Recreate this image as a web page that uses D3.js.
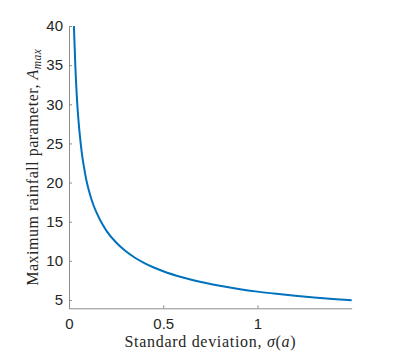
<!DOCTYPE html>
<html>
<head>
<meta charset="utf-8">
<script src="https://cdn.jsdelivr.net/npm/d3@7"></script>
<style>
  body { margin: 0; background: #fff; }
  svg { display: block; }
</style>
</head>
<body>
<svg id="chart" width="407" height="354"></svg>
<script>
// values
var sigma = [0.026, 0.0335, 0.044, 0.05, 0.062, 0.07, 0.08, 0.093, 0.11, 0.13,
             0.15, 0.173, 0.2, 0.25, 0.3, 0.35, 0.4, 0.45, 0.5, 0.6,
             0.7, 0.8, 0.9, 1.0, 1.1, 1.2, 1.3, 1.4, 1.5];
var aMax = [40, 35, 30, 28.0, 25, 23.4, 21.9, 20.2, 18.6, 17.1,
            15.96, 14.86, 13.8, 12.34, 11.25, 10.4, 9.72, 9.15, 8.67, 7.9,
            7.29, 6.81, 6.41, 6.07, 5.79, 5.54, 5.32, 5.14, 4.96];
var xTicks = [0, 0.5, 1];
var yTicks = [5, 10, 15, 20, 25, 30, 35, 40];

var svg = d3.select("#chart");
// note: "top" is taken by window.top, so the box edges get plot* names
var plotL = 69, plotR = 351.7, plotT = 26, plotB = 308.3;

var x = d3.scaleLinear().domain([0, 1.5]).range([plotL, plotR]);
var y = d3.scaleLinear().domain([3.94, 40]).range([plotB, plotT]);

var tickFont = "'Liberation Sans', Arial, sans-serif";
var labelFont = "'Liberation Serif', 'Times New Roman', serif";

// ticks point inward like matlab
var gx = svg.append("g").attr("transform", "translate(0," + plotB + ")")
    .call(d3.axisBottom(x).tickValues(xTicks).tickSizeInner(-3).tickSizeOuter(0).tickPadding(10)
        .tickFormat(function (d) { return d; }));
var gy = svg.append("g").attr("transform", "translate(" + plotL + ",0)")
    .call(d3.axisLeft(y).tickValues(yTicks).tickSizeInner(-3).tickSizeOuter(0).tickPadding(6));

[gx, gy].forEach(function (g) {
    g.select(".domain").attr("stroke", "#8c8c8c").attr("stroke-width", 1);
    g.selectAll(".tick line").attr("stroke", "#8c8c8c");
    g.selectAll(".tick text").attr("fill", "#262626")
        .style("font-family", tickFont).style("font-size", "15px");
});

// curve
var line = d3.line()
    .x(function (d, i) { return x(sigma[i]); })
    .y(function (d) { return y(d); })
    .curve(d3.curveMonotoneX);

svg.append("path")
    .datum(aMax)
    .attr("d", line)
    .attr("fill", "none")
    .attr("stroke", "#0072BD")
    .attr("stroke-width", 2);

// axis labels
var xl = svg.append("text")
    .attr("x", (plotL + plotR) / 2).attr("y", 347)
    .attr("text-anchor", "middle")
    .style("font-family", labelFont).style("font-size", "16px")
    .style("letter-spacing", "0.7px").attr("fill", "#262626");
xl.append("tspan").text("Standard deviation, ");
xl.append("tspan").style("font-style", "italic").text("σ");
xl.append("tspan").text("(");
xl.append("tspan").style("font-style", "italic").text("a");
xl.append("tspan").text(")");

var yl = svg.append("text")
    .attr("transform", "translate(38," + ((plotT + plotB) / 2) + ") rotate(-90)")
    .attr("text-anchor", "middle")
    .style("font-family", labelFont).style("font-size", "16px")
    .style("letter-spacing", "0.5px").attr("fill", "#262626");
yl.append("tspan").text("Maximum rainfall parameter, ");
yl.append("tspan").style("font-style", "italic").text("A");
yl.append("tspan").style("font-style", "italic").style("font-size", "11.5px").attr("dy", 3).text("max");
</script>
</body>
</html>
